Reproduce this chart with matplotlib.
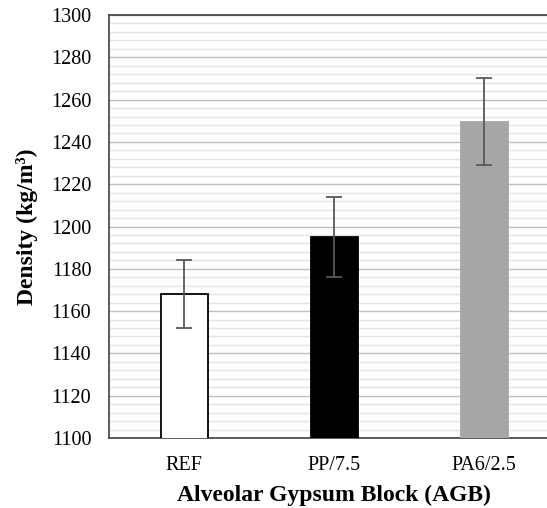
import matplotlib
matplotlib.use("Agg")
import matplotlib.pyplot as plt
from matplotlib.ticker import MultipleLocator

categories = ["REF", "PP/7.5", "PA6/2.5"]
density = [1168, 1195, 1249.5]
errors = [16, 19, 20.5]
colors = ["#ffffff", "#000000", "#a6a6a6"]
edgecolors = ["#000000", "#000000", "#a6a6a6"]

plt.rcParams['font.family'] = ['Liberation Serif', 'DejaVu Serif']

fig = plt.figure(figsize=(5.47, 5.08), dpi=100)
ax = fig.add_axes([109.3/547, 70/508, 450/547, 423/508])

x = list(range(len(categories)))
ax.bar(x, density, width=0.31, color=colors, edgecolor=edgecolors, linewidth=1.3, zorder=3)
ax.errorbar(x, density, yerr=errors, fmt='none', ecolor='#595959', elinewidth=1.3,
            capsize=6, capthick=1.3, zorder=4)

ax.set_xlim(-0.5, 2.5)
ax.set_ylim(1100, 1300)
ax.yaxis.set_major_locator(MultipleLocator(20))
ax.yaxis.set_minor_locator(MultipleLocator(4))
ax.grid(which='major', axis='y', color='#bfbfbf', linewidth=1.0, zorder=0)
ax.grid(which='minor', axis='y', color='#e4e4e4', linewidth=1.0, zorder=0)
ax.set_axisbelow(True)

ax.set_xticks(x)
ax.set_xticklabels(categories)
ax.tick_params(axis='both', which='both', length=0, labelsize=14.5)
ax.tick_params(axis='y', pad=13)
ax.tick_params(axis='x', pad=13)

for s in ['left', 'bottom', 'top']:
    ax.spines[s].set_color('#404040')
    ax.spines[s].set_linewidth(1.2)
ax.spines['right'].set_visible(False)

ax.set_ylabel("Density (kg/m³)", fontsize=17, fontweight='bold', labelpad=9)
ax.set_xlabel("Alveolar Gypsum Block (AGB)", fontsize=17, fontweight='bold', labelpad=7)

fig.savefig("out.png", dpi=100)
